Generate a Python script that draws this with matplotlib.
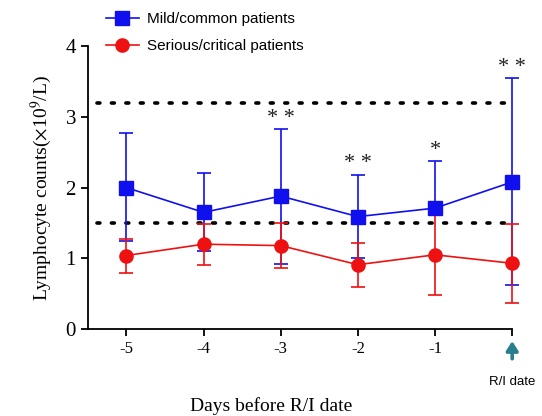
import numpy as np
import matplotlib
matplotlib.use("Agg")
import matplotlib.pyplot as plt
from matplotlib.lines import Line2D

days = [-5, -4, -3, -2, -1, 0]
tick_labels = ["-5", "-4", "-3", "-2", "-1", ""]

mild_mean = [2.00, 1.65, 1.88, 1.59, 1.71, 2.08]
mild_hi   = [2.77, 2.20, 2.83, 2.18, 2.37, 3.55]
mild_lo   = [1.25, 1.10, 0.92, 1.00, 1.62, 0.62]

sev_mean = [1.04, 1.20, 1.18, 0.91, 1.05, 0.93]
sev_hi   = [1.28, 1.48, 1.50, 1.22, 1.62, 1.49]
sev_lo   = [0.79, 0.90, 0.87, 0.59, 0.48, 0.37]

signif = ["", "", "* *", "* *", "*", "* *"]
ref_lines = [3.2, 1.5]

BLUE = "#1010ee"; RED = "#ee1111"

plt.rcParams["mathtext.fontset"] = "stix"
fig = plt.figure(figsize=(5.42, 4.16), dpi=100)
ax = fig.add_axes([0.162, 0.209, 0.783, 0.680])

for y in ref_lines:
    ax.plot([-5.38, 0], [y, y], ls=(0, (0.8, 3.2)), lw=2.6, color="black",
            dash_capstyle="round", zorder=1, clip_on=False)

def series(mean, hi, lo, color, marker, ms):
    mean = np.array(mean)
    err = [mean - np.array(lo), np.array(hi) - mean]
    cont = ax.errorbar(days, mean, yerr=err, color=color, lw=1.2, elinewidth=1.2,
                       capsize=5, capthick=1.2, marker=marker, ms=ms, zorder=3)
    arts = [cont.lines[0]] + list(cont.lines[1]) + list(cont.lines[2])
    for art in arts:
        art.set_clip_on(False)

series(mild_mean, mild_hi, mild_lo, BLUE, "s", 9.5)
series(sev_mean, sev_hi, sev_lo, RED, "o", 9.5)

for x, s, top in zip(days, signif, mild_hi):
    if s:
        ax.text(x, top + 0.02, s, ha="center", va="bottom", fontsize=16,
                family="Liberation Serif", color="#222222")

ax.set_xlim(-5.5, 0)
ax.set_ylim(0, 4)
ax.set_xticks(days)
ax.set_xticklabels(tick_labels, fontsize=12, family="Liberation Serif")
ax.set_yticks([0, 1, 2, 3, 4])
ax.set_yticklabels(["0", "1", "2", "3", "4"], fontsize=15, family="Liberation Serif")
for s in ("top", "right"):
    ax.spines[s].set_visible(False)
for s in ("left", "bottom"):
    ax.spines[s].set_linewidth(1.3)
ax.tick_params(width=1.3, length=5)

ax.set_ylabel(r"Lymphocyte counts($\times$10$^{9}$/L)", fontsize=14,
              family="Liberation Serif", labelpad=8)
fig.text(0.5, 0.025, "Days before R/I date", ha="center", va="center",
         fontsize=14, family="Liberation Serif")

ax.annotate("", xy=(0, -0.17), xytext=(0, -0.42), xycoords="data",
            arrowprops=dict(arrowstyle="-|>,head_length=0.55,head_width=0.35",
                            color="#2a7f8f", lw=2.6, shrinkA=0, shrinkB=0),
            annotation_clip=False)
ax.text(0, -0.75, "R/I date", ha="center", va="center", fontsize=9.5,
        family="Liberation Sans", clip_on=False)

handles = [Line2D([], [], color=BLUE, marker="s", ms=9.5, lw=1.2),
           Line2D([], [], color=RED, marker="o", ms=9.5, lw=1.2)]
labels = ["Mild/common patients", "Serious/critical patients"]
fig.legend(handles, labels, loc="upper left", bbox_to_anchor=(0.175, 0.997),
           frameon=False, prop=dict(family="Liberation Sans", size=11),
           handlelength=2.2, labelspacing=0.85, borderaxespad=0.3,
           handletextpad=0.5)

fig.savefig("out.png", dpi=100)
